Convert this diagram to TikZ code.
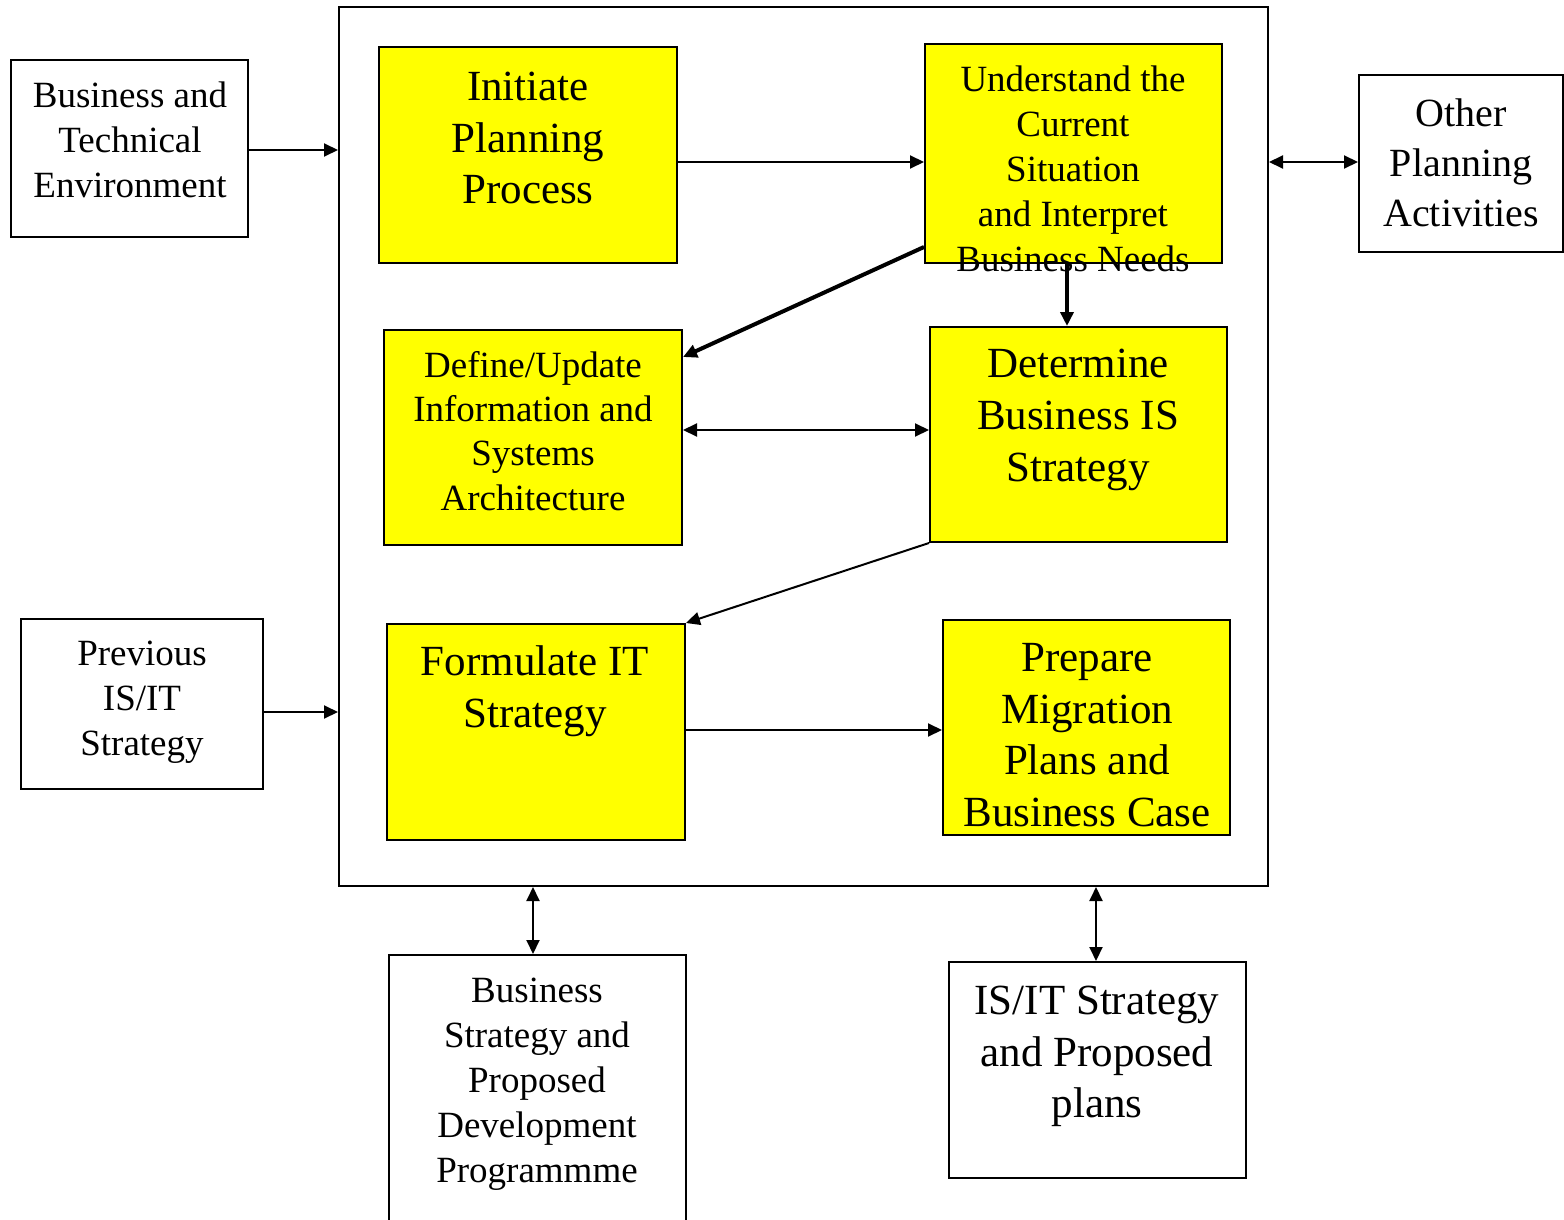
\documentclass[tikz,border=0pt]{standalone}
\usepackage{fontspec}
\setmainfont{Liberation Serif}
\usetikzlibrary{arrows.meta}
\definecolor{ybg}{RGB}{255,255,0}
\begin{document}
\begin{tikzpicture}[x=1pt,y=-1pt,
  box/.style={draw,line width=2pt,inner sep=0pt},
  ybox/.style={box,fill=ybg},
  small/.style={align=center,anchor=north,inner sep=0pt,font=\fontsize{37}{45}\selectfont},
  big/.style={align=center,anchor=north,inner sep=0pt,font=\fontsize{43}{51.5}\selectfont},
  arr/.style={line width=2pt,-{Triangle[length=14pt,width=13pt]}},
  darr/.style={line width=2pt,{Triangle[length=14pt,width=13pt]}-{Triangle[length=14pt,width=13pt]}}]
\useasboundingbox (0,0) rectangle (1564,1220);
\fill[white] (0,0) rectangle (1564,1220);
% boxes
\node[box,minimum width=929pt,minimum height=879pt] (outer) at (803.5,446.5) {};
\node[box,minimum width=237pt,minimum height=177pt] (bte) at (129.5,148.5) {};
\node[ybox,minimum width=298pt,minimum height=216pt] (init) at (528,155) {};
\node[ybox,minimum width=297pt,minimum height=219pt] (und) at (1073.5,153.5) {};
\node[box,minimum width=204pt,minimum height=177pt] (oth) at (1461,163.5) {};
\node[ybox,minimum width=298pt,minimum height=215pt] (def) at (533,437.5) {};
\node[ybox,minimum width=297pt,minimum height=215pt] (det) at (1078.5,434.5) {};
\node[ybox,minimum width=298pt,minimum height=216pt] (form) at (536,732) {};
\node[ybox,minimum width=287pt,minimum height=215pt] (prep) at (1086.5,727.5) {};
\node[box,minimum width=242pt,minimum height=170pt] (prev) at (142,704) {};
\node[box,minimum width=297pt,minimum height=285pt] (bus) at (537.5,1097.5) {};
\node[box,minimum width=297pt,minimum height=216pt] (isit) at (1097.5,1070) {};
% texts
\node[small] (tbte) at (130,82) {Business and\\Technical\\Environment};
\node[big] (tinit) at (528,72) {Initiate\\Planning\\Process};
\node[small] (tund) at (1073,66) {Understand the\\Current\\Situation\\and Interpret\\Business Needs};
\node[big,font=\fontsize{40}{50}\selectfont] (toth) at (1461,98.5) {Other\\Planning\\Activities};
\node[small,font=\fontsize{37}{44.3}\selectfont] (tdef) at (533,351) {Define/Update\\Information and\\Systems\\Architecture};
\node[big,font=\fontsize{43}{52}\selectfont] (tdet) at (1078,349) {Determine\\Business IS\\Strategy};
\node[big,font=\fontsize{43}{52}\selectfont] (tform) at (535,645) {Formulate IT\\Strategy};
\node[big,font=\fontsize{43}{51.7}\selectfont] (tprep) at (1087,643) {Prepare\\Migration\\Plans and\\Business Case};
\node[small] (tprev) at (142,641) {Previous\\IS/IT\\Strategy};
\node[small] (tbus) at (537,978) {Business\\Strategy and\\Proposed\\Development\\Programmme};
\node[big] (tisit) at (1097,986) {IS/IT Strategy\\and Proposed\\plans};
% connectors
\draw[arr] (bte.east |- 0,150) -- (outer.west |- 0,150);
\draw[arr] (prev.east |- 0,712) -- (outer.west |- 0,712);
\draw[arr] (init.east |- 0,162) -- (und.west |- 0,162);
\draw[darr] (outer.east |- 0,162) -- (oth.west |- 0,162);
\draw[arr,line width=3.5pt] (und.south -| 1067,0) -- (det.north -| 1067,0);
\draw[arr,line width=4pt] (und.west |- 0,247) -- (def.east |- 0,357);
\draw[darr] (def.east |- 0,430) -- (det.west |- 0,430);
\draw[arr] (det.south west) -- (form.north east);
\draw[arr] (form.east |- 0,730) -- (prep.west |- 0,730);
\draw[darr] (outer.south -| 533,0) -- (bus.north -| 533,0);
\draw[darr] (outer.south -| 1096,0) -- (isit.north -| 1096,0);
\end{tikzpicture}
\end{document}
